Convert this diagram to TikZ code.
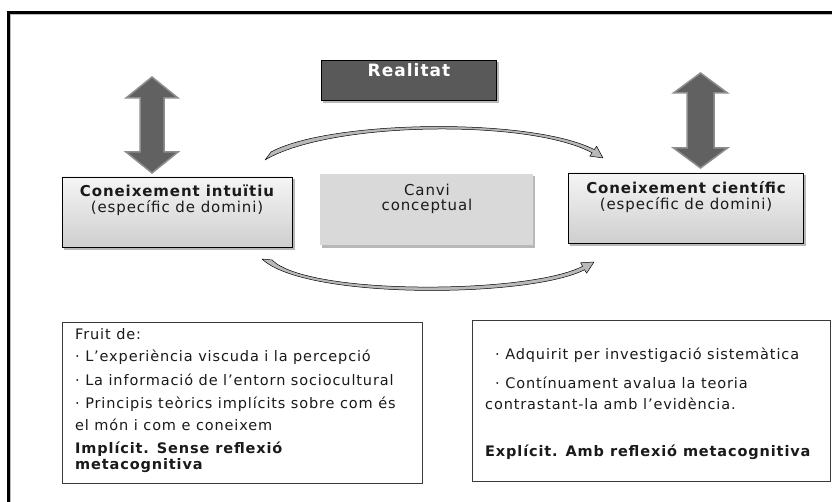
\documentclass[tikz,border=0pt]{standalone}
\usepackage{fontspec}
\setmainfont{DejaVu Sans}[LetterSpace=6]
\usetikzlibrary{backgrounds}
\definecolor{realgray}{HTML}{595959}
\definecolor{arrowgray}{HTML}{616161}
\definecolor{arrowedge}{HTML}{8E8E8E}
\definecolor{midgray}{HTML}{D9D9D9}
\definecolor{txt}{HTML}{1A1A1A}
\definecolor{boxedge}{HTML}{3A3A3A}
\definecolor{shadowgray}{HTML}{9A9A9A}
\tikzset{
  realbox/.style={draw=black, line width=0.8pt, fill=realgray, minimum width=175pt, minimum height=40pt, inner sep=0pt},
  knowbox/.style={draw=black, line width=0.8pt, top color=gray!8, bottom color=gray!38, inner sep=0pt},
  midbox/.style={fill=midgray, inner sep=0pt},
  notebox/.style={draw=boxedge, line width=0.8pt, fill=white, inner sep=0pt},
  lbl/.style={text=txt, inner sep=0pt, font=\fontsize{14.5}{17}\selectfont},
  blbl/.style={text=txt, inner sep=0pt, font=\bfseries\fontsize{14.5}{17}\selectfont},
  toplbl/.style={text=txt, inner sep=0pt, font=\fontsize{15}{17}\selectfont},
  btoplbl/.style={text=txt, inner sep=0pt, font=\bfseries\fontsize{15}{17}\selectfont},
  bigarrow/.style={fill=arrowgray, draw=arrowedge, line width=1.5pt, line join=miter},
  curvearrow/.style={draw=black, line width=0.5pt, fill=gray!55, line join=round},
  boxshadow/.style={fill=shadowgray, opacity=0.7},
}
\begin{document}
\begin{tikzpicture}[x=1pt,y=-1pt]
\useasboundingbox (0,0) rectangle (832,502);

% frame
\draw[line width=3pt] (8,502) -- (8,12.5) -- (832,12.5);
\draw[gray!55, line width=1pt] (10.5,502) -- (10.5,15) -- (832,15);

% boxes
\node[realbox] (real) at (408.5,80) {};
\node[knowbox, minimum width=230pt, minimum height=70pt] (intu) at (177,212) {};
\node[midbox, minimum width=213pt, minimum height=71pt] (canvi) at (426.5,209.5) {};
\node[knowbox, minimum width=235pt, minimum height=70pt] (cient) at (685.5,208) {};
\node[notebox, minimum width=360pt, minimum height=161pt] (fruit) at (242,402.5) {};
\node[notebox, minimum width=358pt, minimum height=161pt] (adq) at (651,400.5) {};

% shadows
\begin{scope}[on background layer]
  \fill[white] (0,0) rectangle (832,502);
  \fill[boxshadow] ([shift={(2.5,2.5)}]real.north west) rectangle ([shift={(2.5,2.5)}]real.south east);
  \fill[boxshadow] ([shift={(2.5,2.5)}]intu.north west) rectangle ([shift={(2.5,2.5)}]intu.south east);
  \fill[boxshadow] ([shift={(2,2.5)}]canvi.north west) rectangle ([shift={(2,2.5)}]canvi.south east);
  \fill[boxshadow] ([shift={(2.5,2.5)}]cient.north west) rectangle ([shift={(2.5,2.5)}]cient.south east);
\end{scope}

% texts
\node[text=white, inner sep=0pt, font=\bfseries\fontsize{17}{19}\selectfont, anchor=mid] (realt) at (409,74) {Realitat};

\node[btoplbl, anchor=mid] (intu1) at (177,194) {Coneixement intuïtiu};
\node[toplbl, anchor=mid] (intu2) at (177,210) {(específic de domini)};

\node[toplbl, anchor=mid] (canvi1) at (427,193) {Canvi};
\node[toplbl, anchor=mid] (canvi2) at (427,208) {conceptual};

\node[btoplbl, anchor=mid] (cient1) at (686,191) {Coneixement científic};
\node[toplbl, anchor=mid] (cient2) at (686,207) {(específic de domini)};

\node[lbl, anchor=mid west] (f1) at (75,337) {Fruit de:};
\node[lbl, anchor=mid west] (f2) at (75,359) {· L’experiència viscuda i la percepció};
\node[lbl, anchor=mid west] (f3) at (75,383) {· La informació de l’entorn sociocultural};
\node[lbl, anchor=mid west] (f4) at (75,406) {· Principis teòrics implícits sobre com és};
\node[lbl, anchor=mid west] (f5) at (75,428) {el món i com e coneixem};
\node[blbl, anchor=mid west] (f6) at (75,451) {Implícit. Sense reflexió};
\node[blbl, anchor=mid west] (f7) at (75,467) {metacognitiva};

\node[lbl, anchor=mid west] (a1) at (495,357) {· Adquirit per investigació sistemàtica};
\node[lbl, anchor=mid west] (a2) at (495,386) {· Contínuament avalua la teoria};
\node[lbl, anchor=mid west] (a3) at (485,407) {contrastant-la amb l’evidència.};
\node[blbl, anchor=mid west] (a4) at (485,454) {Explícit. Amb reflexió metacognitiva};

% vertical double arrows
\draw[bigarrow] (152,77) -- (178,98) -- (164,98) -- (164,152) -- (178,152) -- (152,173)
  -- (126,152) -- (140,152) -- (140,98) -- (126,98) -- cycle;
\draw[bigarrow] (700.5,73) -- (727.5,93) -- (714,93) -- (714,148) -- (727.5,148) -- (700.5,168)
  -- (673.5,148) -- (687,148) -- (687,93) -- (673.5,93) -- cycle;

% curved arrows
\filldraw[curvearrow] (271,152) .. controls (330,120) and (530,117) .. (594.3,149.6)
  -- (596.6,146.3) -- (603,158) -- (589.8,156.1) -- (592.1,152.8)
  .. controls (530,119) and (330,121) .. (265,160) -- cycle;
\filldraw[curvearrow] (262,259) .. controls (305,300) and (530,298) .. (584.6,269.7)
  -- (586.6,273.2) -- (594,262) -- (580.6,262.8) -- (582.6,266.3)
  .. controls (530,294) and (308,296) .. (272,260) -- cycle;
\end{tikzpicture}
\end{document}
